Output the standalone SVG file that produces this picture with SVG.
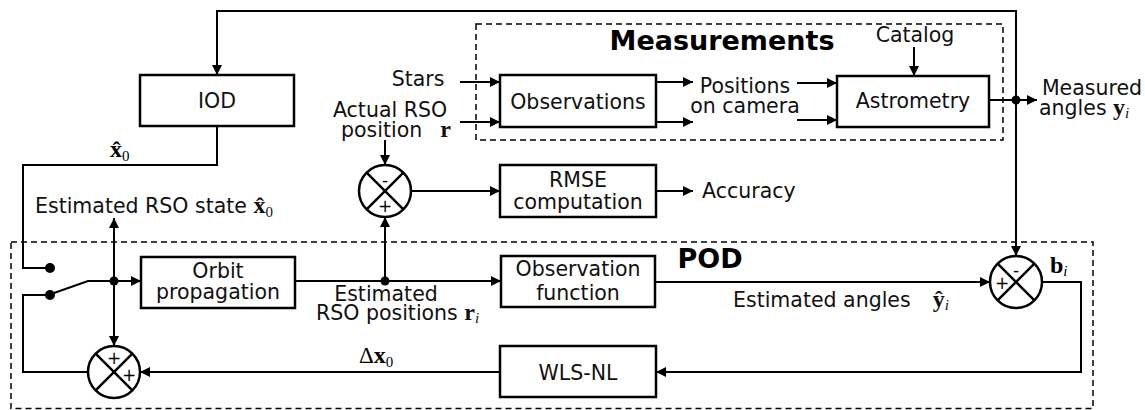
<svg xmlns="http://www.w3.org/2000/svg" width="1145" height="410" viewBox="0 0 1145 410">
  <style>
    .bg { fill: #ffffff; }
    .box { fill: #ffffff; stroke: #000; stroke-width: 2.5; }
    .group { fill: none; stroke: #000; stroke-width: 1.5; stroke-dasharray: 6 4; }
    .wire { fill: none; stroke: #000; stroke-width: 2; }
    .arrow { fill: none; stroke: #000; stroke-width: 2; marker-end: url(#head); }
    .dot { fill: #000; }
    .sum { fill: #ffffff; stroke: #000; stroke-width: 2.5; }
    .cross { stroke: #000; stroke-width: 2.5; }
    .lbl { font-family: "DejaVu Sans", Verdana, sans-serif; font-size: 20.5px; fill: #111; }
    .mid { text-anchor: middle; }
    .title { font-family: "DejaVu Sans", Verdana, sans-serif; font-size: 27px; font-weight: bold; fill: #000; }
    .sign { font-family: "DejaVu Sans", sans-serif; font-size: 17px; fill: #000; text-anchor: middle; }
    .vec { font-family: "Liberation Serif", "Times New Roman", serif; font-weight: bold; font-size: 24px; }
    .greek { font-family: "Liberation Serif", "Times New Roman", serif; font-weight: normal; font-size: 23px; }
    .sub { font-family: "Liberation Serif", serif; font-weight: normal; font-size: 15px; }
    .subi { font-family: "Liberation Serif", serif; font-style: italic; font-weight: normal; font-size: 15px; }
  </style>
  <defs>
    <marker id="head" markerUnits="userSpaceOnUse" markerWidth="10" markerHeight="10" refX="10" refY="5" orient="auto">
      <path d="M0,0 L10,5 L0,10 z" fill="#000"/>
    </marker>
  </defs>
  <rect class="bg" x="0" y="0" width="1145" height="410"/>

  <!-- subsystem frames -->
  <g id="measurements-frame">
    <rect class="group" x="476" y="24" width="527" height="116"/>
    <text class="title mid" x="722" y="50">Measurements</text>
  </g>
  <g id="pod-frame">
    <rect class="group" x="11" y="242" width="1082" height="166.5"/>
    <text class="title mid" x="710" y="268">POD</text>
  </g>

  <!-- connectors -->
  <g id="connectors">
    <path class="arrow" d="M1016,100 V11 H217 V75"/>
    <path class="arrow" d="M1016,100 V256"/>
    <path class="arrow" d="M989,100 H1037"/>
    <path class="wire" d="M217,126 V165 H23 V268 H48"/>
    <path class="wire" d="M54,293 L88,281 H114"/>
    <path class="arrow" d="M114,281 H141"/>
    <path class="wire" d="M88,372 H23 V295 H48"/>
    <path class="arrow" d="M114,281 V218"/>
    <path class="arrow" d="M114,281 V346"/>
    <path class="arrow" d="M500,372 H140"/>
    <path class="arrow" d="M295,281 H501"/>
    <path class="arrow" d="M385,281 V217"/>
    <path class="arrow" d="M385,140 V165"/>
    <path class="arrow" d="M411,191 H500"/>
    <path class="arrow" d="M656,191 H693"/>
    <path class="arrow" d="M460,82 H500"/>
    <path class="arrow" d="M460,122 H500"/>
    <path class="arrow" d="M656,82 H693"/>
    <path class="arrow" d="M656,122 H693"/>
    <path class="arrow" d="M797,83 H837"/>
    <path class="arrow" d="M797,120 H837"/>
    <path class="arrow" d="M914,47 V76"/>
    <path class="arrow" d="M655,282 H990"/>
    <path class="arrow" d="M1042,282 H1081 V372 H656"/>
    <circle class="dot" cx="1016" cy="100" r="4.5"/>
    <circle class="dot" cx="114" cy="281" r="4.5"/>
    <circle class="dot" cx="385" cy="281" r="4.5"/>
    <circle class="dot" cx="50" cy="268" r="5"/>
    <circle class="dot" cx="50" cy="295" r="5"/>
  </g>

  <!-- blocks -->
  <g id="iod">
    <rect class="box" x="140" y="75" width="154" height="51"/>
    <text class="lbl mid" x="217" y="108">IOD</text>
  </g>
  <g id="observations">
    <rect class="box" x="500" y="75" width="156" height="52"/>
    <text class="lbl mid" x="578" y="109">Observations</text>
  </g>
  <g id="astrometry">
    <rect class="box" x="837" y="76" width="152" height="51"/>
    <text class="lbl mid" x="913" y="108">Astrometry</text>
  </g>
  <g id="rmse">
    <rect class="box" x="500" y="165" width="156" height="52"/>
    <text class="lbl mid" x="578" y="187">RMSE</text>
    <text class="lbl mid" x="578" y="209">computation</text>
  </g>
  <g id="orbit-propagation">
    <rect class="box" x="141" y="257" width="154" height="51"/>
    <text class="lbl mid" x="218" y="278">Orbit</text>
    <text class="lbl mid" x="218" y="299">propagation</text>
  </g>
  <g id="observation-function">
    <rect class="box" x="501" y="256" width="154" height="51"/>
    <text class="lbl mid" x="578" y="276">Observation</text>
    <text class="lbl mid" x="578" y="300">function</text>
  </g>
  <g id="wls-nl">
    <rect class="box" x="500" y="346" width="156" height="51"/>
    <text class="lbl mid" x="578" y="380">WLS-NL</text>
  </g>

  <!-- summing junctions -->
  <g id="sum-error">
    <circle class="sum" cx="385" cy="191" r="26"/>
    <line class="cross" x1="366.6" y1="172.6" x2="403.4" y2="209.4"/>
    <line class="cross" x1="403.4" y1="172.6" x2="366.6" y2="209.4"/>
    <text class="sign" x="385" y="186">-</text>
    <text class="sign" x="385" y="212">+</text>
  </g>
  <g id="sum-residual">
    <circle class="sum" cx="1016" cy="282" r="26"/>
    <line class="cross" x1="997.6" y1="263.6" x2="1034.4" y2="300.4"/>
    <line class="cross" x1="1034.4" y1="263.6" x2="997.6" y2="300.4"/>
    <text class="sign" x="1016" y="276">-</text>
    <text class="sign" x="1002" y="289">+</text>
  </g>
  <g id="sum-update">
    <circle class="sum" cx="114" cy="372" r="26"/>
    <line class="cross" x1="95.6" y1="353.6" x2="132.4" y2="390.4"/>
    <line class="cross" x1="132.4" y1="353.6" x2="95.6" y2="390.4"/>
    <text class="sign" x="114" y="364">+</text>
    <text class="sign" x="129" y="381">+</text>
  </g>

  <!-- signal labels -->
  <g id="labels">
    <text class="lbl" x="35" y="213">Estimated RSO state <tspan class="vec">x̂</tspan><tspan class="sub" dy="4">0</tspan></text>
    <text x="110" y="157"><tspan class="vec">x̂</tspan><tspan class="sub" dy="4">0</tspan></text>
    <text class="lbl mid" x="418" y="86">Stars</text>
    <text class="lbl mid" x="390" y="117">Actual RSO</text>
    <text class="lbl" x="341" y="137">position<tspan class="vec" dx="18">r</tspan></text>
    <text class="lbl mid" x="745" y="93">Positions</text>
    <text class="lbl mid" x="745" y="113">on camera</text>
    <text class="lbl mid" x="915" y="42">Catalog</text>
    <text class="lbl" x="702" y="198">Accuracy</text>
    <text class="lbl mid" x="1092" y="95">Measured</text>
    <text class="lbl" x="1039" y="115">angles <tspan class="vec">y</tspan><tspan class="subi" dy="3">i</tspan></text>
    <text class="lbl mid" x="386" y="301">Estimated</text>
    <text class="lbl" x="316" y="320">RSO positions <tspan class="vec">r</tspan><tspan class="subi" dy="3">i</tspan></text>
    <text class="lbl" x="733" y="307">Estimated angles<tspan class="vec" dx="22">ŷ</tspan><tspan class="subi" dy="3">i</tspan></text>
    <text x="1050" y="273"><tspan class="vec">b</tspan><tspan class="subi" dy="3">i</tspan></text>
    <text x="359" y="363"><tspan class="greek">Δ</tspan><tspan class="vec">x</tspan><tspan class="sub" dy="4">0</tspan></text>
  </g>
</svg>
